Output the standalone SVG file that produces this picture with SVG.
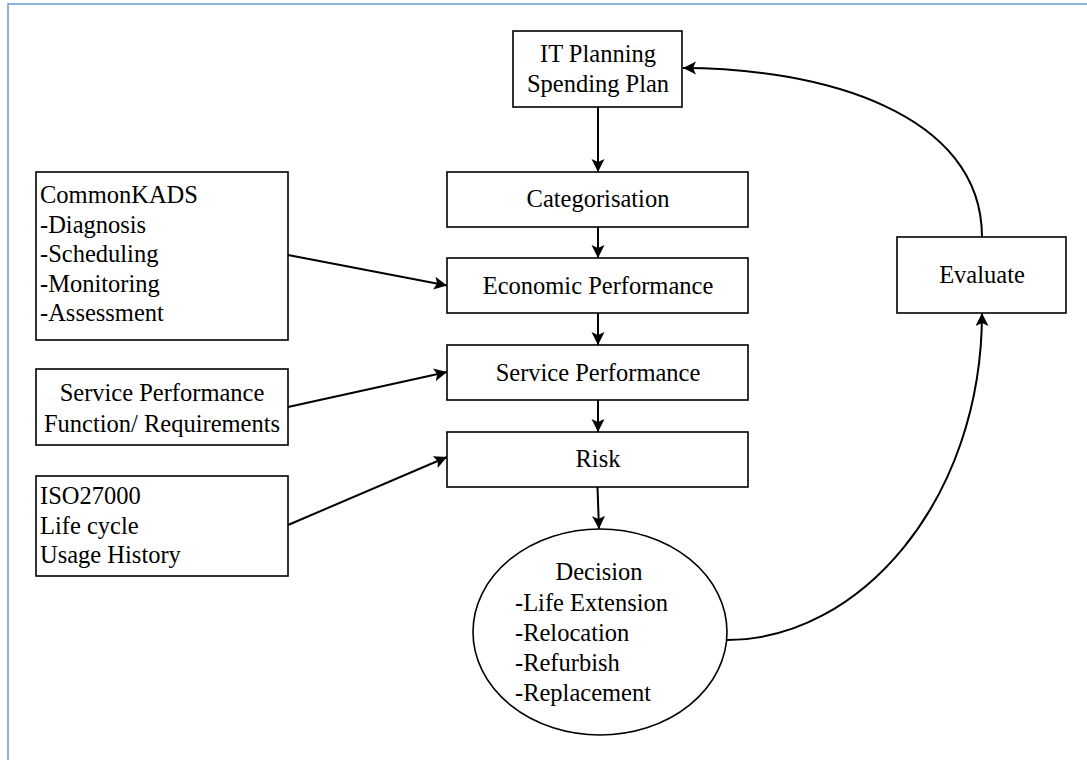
<svg xmlns="http://www.w3.org/2000/svg" width="1087" height="760" viewBox="0 0 1087 760">
<style>
.box{fill:#fff;stroke:#000;stroke-width:1.6}
.t{font-family:"Liberation Serif","Times New Roman",serif;font-size:24.5px;fill:#000}
.c{text-anchor:middle}
.conn{fill:none;stroke:#000;stroke-width:2}
</style>
<defs>
<marker id="arr" markerUnits="userSpaceOnUse" markerWidth="14" markerHeight="14" refX="13" refY="6.5" orient="auto">
<path d="M0,0 L13,6.5 L0,13 L3,6.5 z" fill="#000"/>
</marker>
</defs>
<rect x="8" y="4" width="1100" height="800" fill="#fff" stroke="#6fa0d8" stroke-width="1.6"/>
<g id="connectors">
<line class="conn" x1="598" y1="107" x2="598" y2="172" marker-end="url(#arr)"/>
<line class="conn" x1="598" y1="227" x2="598" y2="258" marker-end="url(#arr)"/>
<line class="conn" x1="598" y1="313" x2="598" y2="345" marker-end="url(#arr)"/>
<line class="conn" x1="598" y1="400" x2="598" y2="432" marker-end="url(#arr)"/>
<line class="conn" x1="597.5" y1="487" x2="599" y2="529" marker-end="url(#arr)"/>
<line class="conn" x1="288" y1="255" x2="447" y2="285.5" marker-end="url(#arr)"/>
<line class="conn" x1="288" y1="407" x2="447" y2="372" marker-end="url(#arr)"/>
<line class="conn" x1="288" y1="525" x2="447" y2="457" marker-end="url(#arr)"/>
<path class="conn" d="M727,640 C860,640 982,500 982,313" marker-end="url(#arr)"/>
<path class="conn" d="M982,237 C982,112 820,68 683,68" marker-end="url(#arr)"/>
</g>
<g id="it-planning">
<rect class="box" x="513" y="31" width="169" height="76"/>
<text class="t c" x="598" y="62">IT Planning</text>
<text class="t c" x="598" y="92">Spending Plan</text>
</g>
<g id="categorisation">
<rect class="box" x="447" y="172" width="301" height="55"/>
<text class="t c" x="598" y="207">Categorisation</text>
</g>
<g id="economic-performance">
<rect class="box" x="447" y="258" width="301" height="55"/>
<text class="t c" x="598" y="294">Economic Performance</text>
</g>
<g id="service-performance">
<rect class="box" x="447" y="345" width="301" height="55"/>
<text class="t c" x="598" y="381">Service Performance</text>
</g>
<g id="risk">
<rect class="box" x="447" y="432" width="301" height="55"/>
<text class="t c" x="598" y="467">Risk</text>
</g>
<g id="commonkads">
<rect class="box" x="36" y="172" width="252" height="168"/>
<text class="t" x="40" y="203">CommonKADS</text>
<text class="t" x="40" y="232.5">-Diagnosis</text>
<text class="t" x="40" y="262">-Scheduling</text>
<text class="t" x="40" y="291.5">-Monitoring</text>
<text class="t" x="40" y="321">-Assessment</text>
</g>
<g id="service-requirements">
<rect class="box" x="36" y="369" width="252" height="76"/>
<text class="t c" x="162" y="401">Service Performance</text>
<text class="t c" x="162" y="432">Function/ Requirements</text>
</g>
<g id="iso27000">
<rect class="box" x="36" y="476" width="252" height="100"/>
<text class="t" x="40" y="504">ISO27000</text>
<text class="t" x="40" y="533.5">Life cycle</text>
<text class="t" x="40" y="563">Usage History</text>
</g>
<g id="decision">
<ellipse class="box" cx="600" cy="632" rx="127" ry="103"/>
<text class="t c" x="599" y="580">Decision</text>
<text class="t" x="515" y="610.5">-Life Extension</text>
<text class="t" x="515" y="641">-Relocation</text>
<text class="t" x="515" y="671">-Refurbish</text>
<text class="t" x="515" y="701">-Replacement</text>
</g>
<g id="evaluate">
<rect class="box" x="897" y="237" width="169" height="76"/>
<text class="t c" x="982" y="283">Evaluate</text>
</g>
</svg>
